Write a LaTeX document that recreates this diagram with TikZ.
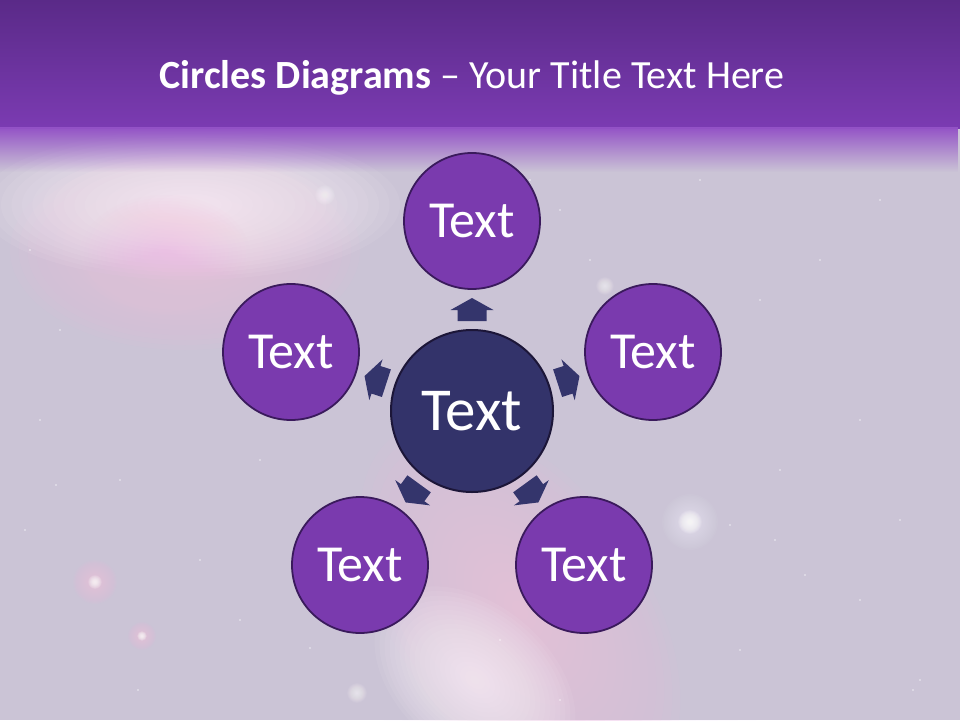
\documentclass[tikz,border=0pt]{standalone}
\usepackage{fontspec}
\setmainfont{Carlito}
\usetikzlibrary{fadings}
\definecolor{bgcol}{HTML}{CBC4D6}
\definecolor{hdtop}{HTML}{5A2A88}
\definecolor{hdbot}{HTML}{7B3BB2}
\definecolor{hdfade}{HTML}{9352C6}
\definecolor{outerfill}{HTML}{7A3AAE}
\definecolor{outerline}{HTML}{3A1A5C}
\definecolor{centerfill}{HTML}{33336A}
\definecolor{centerline}{HTML}{1C1638}
\definecolor{arrowfill}{HTML}{34356C}
\definecolor{pinkglow}{HTML}{F2C0E4}
\definecolor{lilacglow}{HTML}{E4C8F2}
\definecolor{whiteglow}{HTML}{FCF2F9}
\tikzfading[name=fadedown, top color=transparent!0, bottom color=transparent!100]
% #1 x, #2 y, #3 rx, #4 ry, #5 rotation, #6 colour, #7 opacity per layer
\newcommand{\nebglow}[7]{%
  \foreach \k in {1,...,20}{%
    \fill[#6, opacity=#7, rotate around={#5:(#1,#2)}] (#1,#2) ellipse ({#3*\k/20} and {#4*\k/20});%
  }}
\begin{document}
\begin{tikzpicture}[x=1pt,y=-1pt,
  outer/.style={circle, draw=outerline, line width=1.8pt, fill=outerfill,
    minimum size=136pt, inner sep=0pt, text=white,
    font=\fontsize{52}{56}\selectfont},
  hub/.style={circle, draw=centerline, line width=2pt, fill=centerfill,
    minimum size=162pt, inner sep=0pt, text=white,
    font=\fontsize{61}{64}\selectfont},
  blockarrow/.style={fill=arrowfill}]
\useasboundingbox (0,0) rectangle (960,720);
% background
\fill[bgcol] (0,0) rectangle (960,720);
% upper-left nebula
\nebglow{230}{250}{280}{150}{0}{lilacglow}{0.035}
\nebglow{185}{250}{175}{100}{0}{pinkglow}{0.06}
\nebglow{190}{205}{210}{75}{0}{whiteglow}{0.08}
\nebglow{165}{255}{85}{60}{0}{pinkglow}{0.04}
% lower stream
\nebglow{570}{560}{260}{230}{0}{lilacglow}{0.035}
\nebglow{520}{610}{215}{125}{-55}{pinkglow}{0.06}
\nebglow{475}{680}{115}{75}{-40}{whiteglow}{0.07}
\nebglow{90}{560}{125}{115}{0}{lilacglow}{0.03}
% star glows
\nebglow{690}{522}{28}{28}{0}{white}{0.035}
\nebglow{690}{522}{12}{12}{0}{white}{0.09}
\nebglow{95}{582}{22}{22}{0}{pinkglow}{0.06}
\nebglow{95}{582}{7}{7}{0}{white}{0.08}
\nebglow{142}{636}{14}{14}{0}{pinkglow}{0.06}
\nebglow{142}{636}{5}{5}{0}{white}{0.08}
\nebglow{605}{286}{9}{9}{0}{white}{0.05}
\nebglow{325}{195}{10}{10}{0}{white}{0.05}
\nebglow{357}{693}{10}{10}{0}{white}{0.05}
\foreach \sx/\sy in {560/210, 590/260, 760/300, 820/260, 860/420, 900/520, 700/180,
  640/420, 780/470, 860/600, 40/420, 60/330, 120/480, 200/560, 260/460, 330/620,
  500/640, 560/700, 740/650, 920/680, 450/250, 530/180, 30/250, 880/200, 610/330,
  730/525, 775/540, 805/575, 913/690, 56/485, 25/530, 138/690, 310/648, 240/620}
  \fill[white, opacity=0.7] (\sx,\sy) circle (0.9);
% header
\shade[top color=hdtop, bottom color=hdbot] (0,0) rectangle (960,128);
\fill[hdfade, path fading=fadedown] (0,127) rectangle (960,172);
\node[anchor=base, text=white, font=\fontsize{40}{44}\selectfont] (title) at (472,88)
  {\textbf{Circles Diagrams} – Your Title Text Here};
% circles
\node[hub] (c) at (472,411) {Text};
\node[outer] (n1) at (472,221) {Text};
\node[outer] (n2) at (653,352) {Text};
\node[outer] (n3) at (584,565) {Text};
\node[outer] (n4) at (360,565) {Text};
\node[outer] (n5) at (291,352) {Text};
% block arrows
\foreach \ang in {-90,-18,54,126,198}{
  \begin{scope}[shift={(c.center)}, rotate=-\ang]
    \fill[blockarrow] (90,-14.5) -- (101,-14.5) -- (101,-21.5) -- (113,0)
      -- (101,21.5) -- (101,14.5) -- (90,14.5) -- cycle;
  \end{scope}
}
\end{tikzpicture}
\end{document}
